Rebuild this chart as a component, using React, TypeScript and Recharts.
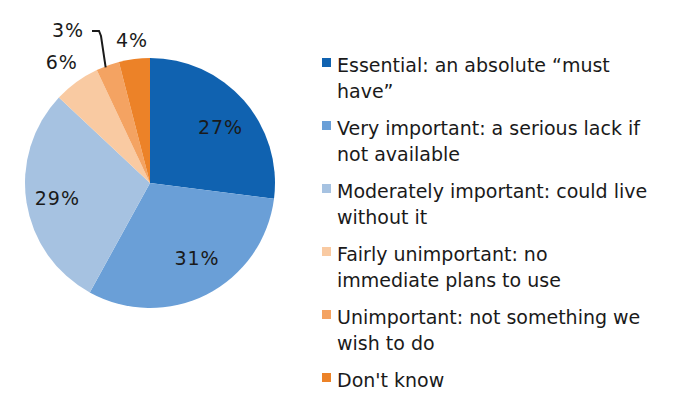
import { Cell, Legend, Pie, PieChart } from "recharts";

const CATEGORIES = [
  "Essential",
  "Very important",
  "Moderately important",
  "Fairly unimportant",
  "Unimportant",
  "Don't know",
];

const LEGEND_LINES = [
  ["Essential: an absolute \u201cmust", "have\u201d"],
  ["Very important: a serious lack if", "not available"],
  ["Moderately important: could live", "without it"],
  ["Fairly unimportant: no", "immediate plans to use"],
  ["Unimportant: not something we", "wish to do"],
  ["Don't know"],
];

const VALUES = [27, 31, 29, 6, 3, 4];

const COLORS = ["#1062b0", "#6a9fd7", "#a6c2e1", "#f9caa2", "#f4a362", "#ec8228"];

const FONT = "'DejaVu Sans', Verdana, sans-serif";

const data = CATEGORIES.map((name, i) => ({ name, value: VALUES[i] }));

// label radius (fraction of outer radius) and angle nudge per slice
const LABEL_R = [0.72, 0.71, 0.75, 1.2, 1.35, 1.15];
const LABEL_DA = [-3, 5, 0, 0, 0, 0];

const RADIAN = Math.PI / 180;

function renderLabel(props: any) {
  const { cx, cy, midAngle, outerRadius, index, value } = props;
  const r = outerRadius * LABEL_R[index];
  const a = midAngle + LABEL_DA[index];
  const x = cx + r * Math.cos(-a * RADIAN);
  const y = cy + r * Math.sin(-a * RADIAN);
  if (index === 4) {
    // small slice: label pushed out with a leader line
    const ex = cx + outerRadius * Math.cos(-midAngle * RADIAN);
    const ey = cy + outerRadius * Math.sin(-midAngle * RADIAN);
    const lx = 68;
    const ly = 30;
    return (
      <g>
        <polyline
          points={`${ex - 2},${ey + 2} ${lx + 33},${ly + 6} ${lx + 31},${ly + 1} ${lx + 24},${ly + 1}`}
          fill="none"
          stroke="#1a1a1a"
          strokeWidth={2}
        />
        <text
          x={lx}
          y={ly}
          fill="#1a1a1a"
          textAnchor="middle"
          dominantBaseline="central"
          fontSize={19}
          letterSpacing={1}
          fontFamily={FONT}
        >
          {`${value}%`}
        </text>
      </g>
    );
  }
  return (
    <text
      x={x}
      y={y}
      fill="#1a1a1a"
      textAnchor="middle"
      dominantBaseline="central"
      fontSize={19}
      letterSpacing={1}
      fontFamily={FONT}
    >
      {`${value}%`}
    </text>
  );
}

function renderLegend() {
  return (
    <div style={{ fontFamily: FONT, fontSize: 19, color: "#1a1a1a" }}>
      {LEGEND_LINES.map((lines, i) => (
        <div key={i} style={{ position: "relative", paddingLeft: 15, marginBottom: 11, lineHeight: "26px" }}>
          <span
            style={{
              position: "absolute",
              left: 0,
              top: 6,
              width: 9,
              height: 9,
              background: COLORS[i],
            }}
          />
          {lines.map((l, j) => (
            <div key={j} style={{ whiteSpace: "nowrap" }}>
              {l}
            </div>
          ))}
        </div>
      ))}
    </div>
  );
}

export default function App() {
  return (
    <div style={{ position: "absolute", left: 0, top: 0, width: 675, height: 412, background: "#fff" }}>
      <PieChart width={675} height={412} margin={{ top: 0, right: 0, bottom: 0, left: 0 }}>
        <Pie
          data={data}
          dataKey="value"
          cx={150}
          cy={183}
          outerRadius={125}
          startAngle={90}
          endAngle={-270}
          stroke="none"
          labelLine={false}
          label={renderLabel}
          isAnimationActive={false}
        >
          {data.map((_, i) => (
            <Cell key={`cell-${i}`} fill={COLORS[i]} />
          ))}
        </Pie>
        <Legend
          layout="vertical"
          align="right"
          verticalAlign="top"
          content={renderLegend}
          wrapperStyle={{ left: 322, top: 52, width: 350 }}
        />
      </PieChart>
    </div>
  );
}
